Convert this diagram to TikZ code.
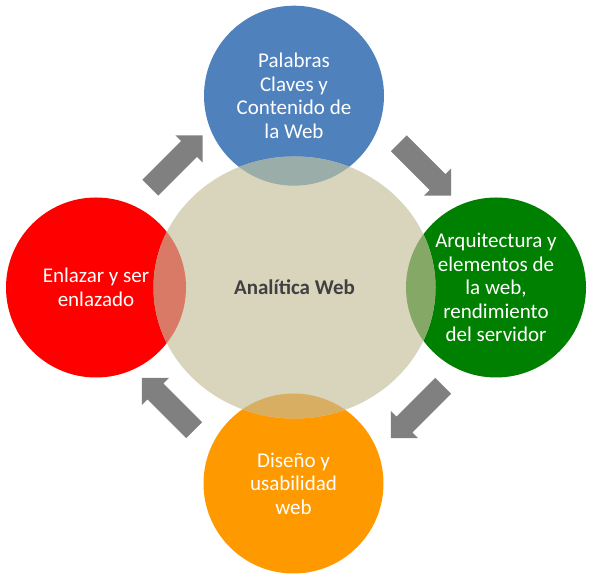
\documentclass[tikz,border=0pt]{standalone}
\usepackage{fontspec}
\setmainfont{Carlito}
\usetikzlibrary{shapes.geometric,shapes.arrows}
\definecolor{cblue}{HTML}{4F81BD}
\definecolor{cred}{HTML}{FF0000}
\definecolor{cgreen}{HTML}{008000}
\definecolor{corange}{HTML}{FF9900}
\definecolor{cbeige}{HTML}{D9D5BD}
\definecolor{oblue}{HTML}{9AADA8}
\definecolor{ored}{HTML}{D87A66}
\definecolor{ogreen}{HTML}{86A867}
\definecolor{oorange}{HTML}{D8AE62}
\definecolor{cgray}{HTML}{808080}
\definecolor{ctext}{HTML}{404040}
\tikzset{
  disc/.style={circle, minimum size=180pt, inner sep=0pt, draw=none},
  lbl/.style={text=white, align=center, inner sep=0pt,
    font=\fontsize{21}{23.5}\selectfont},
  blockarrow/.style={single arrow, fill=cgray, draw=none, inner sep=0pt,
    minimum height=74pt, single arrow head extend=8pt,
    single arrow tip angle=90},
}
\newcommand{\shaftstrut}{\rule{0pt}{22pt}}
\begin{document}
\begin{tikzpicture}[x=1pt,y=1pt]
\useasboundingbox (0,0) rectangle (594,583);
% outer discs
\node[disc, fill=cblue] (blue) at (294,487.3) {};
\node[disc, fill=cred] (red) at (96,295.5) {};
\node[disc, fill=cgreen] (green) at (496,295.5) {};
\node[disc, fill=corange] (orange) at (293.5,99.5) {};
% central ellipse
\node[ellipse, fill=cbeige, minimum width=282pt, minimum height=262pt, inner sep=0pt] (core) at (294.5,295.5) {};
% overlaps
\begin{scope}
  \clip (294.5,295.5) ellipse [x radius=141, y radius=131];
  \fill[oblue] (294,487.3) circle [radius=90];
  \fill[ored] (96,295.5) circle [radius=90];
  \fill[ogreen] (496,295.5) circle [radius=90];
  \fill[oorange] (293.5,99.5) circle [radius=90];
\end{scope}
% texts
\node[lbl, text=ctext, font=\fontsize{21}{23.5}\selectfont\bfseries] (coreT) at (core.center) {Analítica Web};
\node[lbl] (blueT) at (blue.center) {Palabras\\Claves y\\Contenido de\\la Web};
\node[lbl] (redT) at (red.center) {Enlazar y ser\\enlazado};
\node[lbl] (greenT) at (green.center) {Arquitectura y\\elementos de\\la web,\\rendimiento\\del servidor};
\node[lbl] (orangeT) at (orange.center) {Diseño y\\usabilidad\\web};
% arrows
\node[blockarrow, rotate=45] (a1) at (172.5,417.5) {\shaftstrut};
\node[blockarrow, rotate=-45] (a2) at (421,417.5) {\shaftstrut};
\node[blockarrow, rotate=-135] (a3) at (421,175) {\shaftstrut};
\node[blockarrow, rotate=135] (a4) at (172,175) {\shaftstrut};
\end{tikzpicture}
\end{document}
